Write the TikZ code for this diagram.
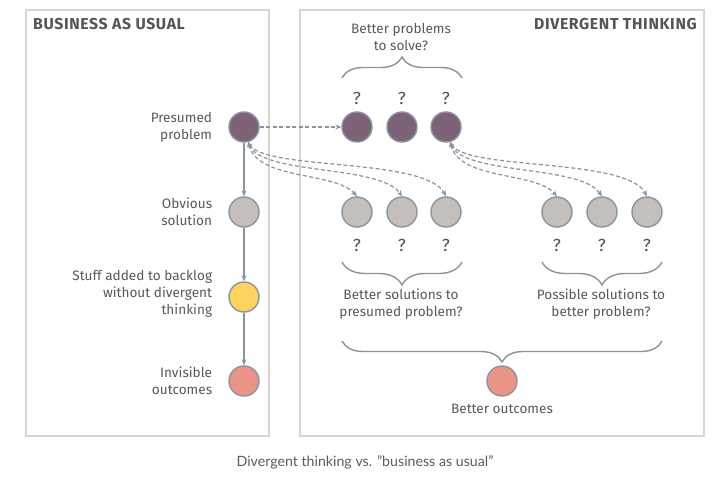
\documentclass[tikz,border=0pt]{standalone}
\usepackage{fontspec}
\setmainfont{Fira Sans}
\newfontfamily\capfont{Lato}
\newfontfamily\ttlfont[LetterSpace=4]{Fira Sans}
\usetikzlibrary{arrows.meta,decorations.pathreplacing,positioning}
\definecolor{linec}{HTML}{8B939E}
\definecolor{panelc}{HTML}{DAD5D1}
\definecolor{purp}{HTML}{7E6378}
\definecolor{greyc}{HTML}{C5BFBC}
\definecolor{yell}{HTML}{FED360}
\definecolor{salm}{HTML}{EA9488}
\definecolor{txt}{HTML}{595959}
\definecolor{ttl}{HTML}{555555}
\definecolor{capc}{HTML}{5C5C5C}
\tikzset{
  panel/.style={draw=panelc, line width=1.5pt, fill=white, inner sep=0pt},
  dot/.style={circle, draw=linec, line width=1.4pt, minimum size=30pt, inner sep=0pt},
  lbl/.style={text=txt, align=right, font=\fontsize{13.6}{17}\selectfont, inner sep=0pt},
  clbl/.style={text=txt, align=center, font=\fontsize{13.6}{17}\selectfont, inner sep=0pt},
  qm/.style={text=ttl, font=\fontsize{17.5}{17}\selectfont, inner sep=0pt},
  ttlstyle/.style={text=ttl, font=\ttlfont\fontsize{15.8}{18}\selectfont\bfseries, inner sep=0pt},
  solidarr/.style={draw=linec, line width=1.2pt, -{Stealth[length=6pt,width=5pt]}},
  dasharr/.style={draw=linec, line width=1.2pt, dash pattern=on 4pt off 2.5pt, {Stealth[length=5pt,width=4.5pt]}-{Stealth[length=6pt,width=5pt]}},
  dasharrone/.style={draw=linec, line width=1.2pt, dash pattern=on 4pt off 2.5pt, -{Stealth[length=6pt,width=5pt]}},
  bracestyle/.style={draw=linec, line width=1.4pt, decorate}
}
\begin{document}
\begin{tikzpicture}[x=1pt,y=1pt]
\fill[white] (0,0) rectangle (723,-487);
\useasboundingbox (0,0) rectangle (723,-487);
% panels
\node[panel, minimum width=243pt, minimum height=426pt] (lp) at (147.5,-223) {};
\node[panel, minimum width=404pt, minimum height=426pt] (rp) at (502,-223) {};
\node[ttlstyle, anchor=west] (lt) at (33,-24) {BUSINESS AS USUAL};
\node[ttlstyle, anchor=east] (rt) at (697,-24) {DIVERGENT THINKING};
% left column
\node[dot, fill=purp] (pp) at (244,-127) {};
\node[dot, fill=greyc] (os) at (244,-212) {};
\node[dot, fill=yell] (sb) at (244,-297) {};
\node[dot, fill=salm] (io) at (244,-381) {};
\node[lbl, left=16pt of pp] (ppl) {Presumed\\problem};
\node[lbl, left=16pt of os] (osl) {Obvious\\solution};
\node[lbl, left=16pt of sb, yshift=3pt] (sbl) {Stuff added to backlog\\without divergent\\thinking};
\node[lbl, left=16pt of io] (iol) {Invisible\\outcomes};
\draw[solidarr] (pp) -- (os);
\draw[solidarr] (os) -- (sb);
\draw[solidarr] (sb) -- (io);
% top row
\node[dot, fill=purp] (pb1) at (357,-127) {};
\node[dot, fill=purp] (pb2) at (402,-127) {};
\node[dot, fill=purp] (pb3) at (446,-127) {};
\node[qm] (q1) at (357,-98) {?};
\node[qm] (q2) at (402,-98) {?};
\node[qm] (q3) at (446,-98) {?};
\draw[bracestyle, decoration={brace, amplitude=21pt}] (342,-78) -- (462,-78);
\node[clbl] (bpl) at (401,-37) {Better problems\\to solve?};
\draw[dasharrone] (pp) -- (pb1);
% middle row
\node[dot, fill=greyc] (s1) at (357,-212) {};
\node[dot, fill=greyc] (s2) at (402,-212) {};
\node[dot, fill=greyc] (s3) at (446,-212) {};
\node[dot, fill=greyc] (t1) at (557,-212) {};
\node[dot, fill=greyc] (t2) at (602,-212) {};
\node[dot, fill=greyc] (t3) at (647,-212) {};
\foreach \n/\x in {a/357,b/402,c/446,d/557,e/602,f/647}{
  \node[qm] (qq\n) at (\x,-245) {?};
}
\draw[bracestyle, decoration={brace, mirror, amplitude=23pt}] (342,-262) -- (462,-262);
\draw[bracestyle, decoration={brace, mirror, amplitude=23pt}] (542,-262) -- (662,-262);
\node[clbl] (bsl) at (401,-304.5) {Better solutions to\\presumed problem?};
\node[clbl] (psl) at (601,-304.5) {Possible solutions to\\better problem?};
% curves
\draw[dasharr] (pp.-75) .. controls +(17,-28.5) and +(-21,39) .. (s3.north);
\draw[dasharr] (pp.-75) .. controls +(14,-33.5) and +(-22,32) .. (s2.north);
\draw[dasharr] (pp.-75) .. controls +(10,-38.5) and +(-22,25) .. (s1.north);
\draw[dasharr] (pb3.-75) .. controls +(17,-28.5) and +(-21,39) .. (t3.north);
\draw[dasharr] (pb3.-75) .. controls +(14,-33.5) and +(-22,32) .. (t2.north);
\draw[dasharr] (pb3.-75) .. controls +(10,-38.5) and +(-22,25) .. (t1.north);
% bottom
\draw[bracestyle, decoration={brace, mirror, amplitude=21pt}] (342,-341) -- (662,-341);
\node[dot, fill=salm] (bo) at (502,-381) {};
\node[clbl] (bol) at (502,-409) {Better outcomes};
% caption
\node[text=capc, font=\capfont\fontsize{14.2}{16}\selectfont, inner sep=0pt] (cap) at (365,-462) {Divergent thinking vs. ”business as usual”};
\end{tikzpicture}
\end{document}
